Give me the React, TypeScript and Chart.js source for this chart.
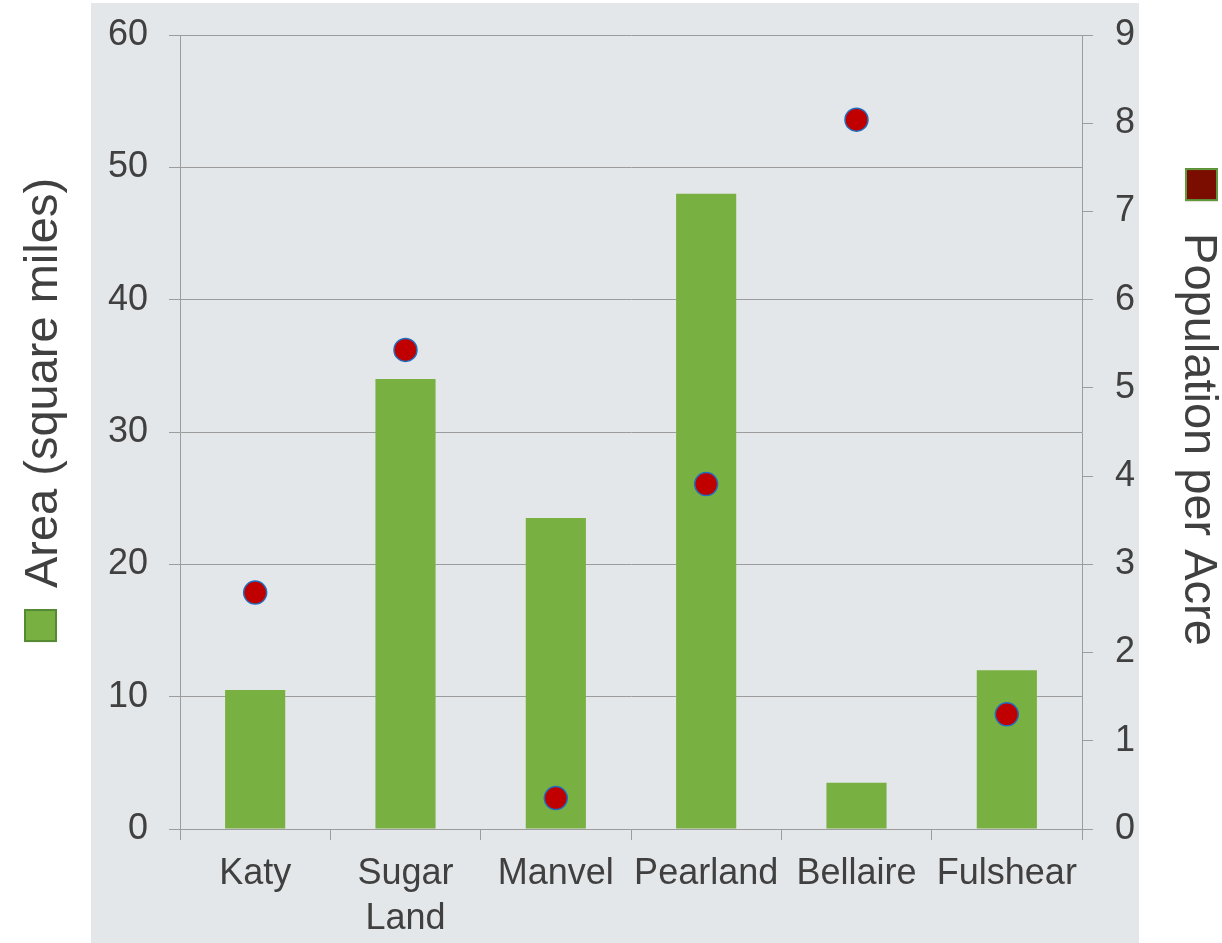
import { useEffect, useRef } from 'react';
import { Chart, registerables } from 'chart.js';

Chart.register(...registerables);

// City names (multi-line labels as arrays)
const cities: (string | string[])[] = ['Katy', ['Sugar', 'Land'], 'Manvel', 'Pearland', 'Bellaire', 'Fulshear'];
// Area of each city, square miles (left axis)
const areaSqMi = [10.5, 34, 23.5, 48, 3.5, 12];
// Population density, people per acre (right axis)
const popPerAcre = [2.68, 5.43, 0.35, 3.91, 8.04, 1.3];

const areaAxis = { min: 0, max: 60, step: 10 };
const densityAxis = { min: 0, max: 9, step: 1 };

const areaTitle = 'Area (square miles)';
const densityTitle = 'Population per Acre';

const FONT = "'Liberation Sans', Arial, sans-serif";
const TEXT = '#404040';
const GRID = '#9c9c9c';
const GREEN = '#78b042';
const GREEN_EDGE = '#558a35';
const RED = '#c00000';
const DARK_RED = '#7a0c00';

const W = 1222;
const H = 943;

// Light grey panel behind the plot
const panelPlugin = {
  id: 'panel',
  beforeDraw(chart: Chart) {
    const ctx = chart.ctx;
    ctx.save();
    ctx.fillStyle = '#e4e7e9';
    ctx.fillRect(91, 3, 1048, H - 3);
    ctx.restore();
  },
};

// Rotated axis titles, each with a colour key square
const titlesPlugin = {
  id: 'axisTitles',
  afterDraw(chart: Chart) {
    const ctx = chart.ctx;
    const area = chart.chartArea;
    const cy = (area.top + area.bottom) / 2 - 22;
    const sq = 33;
    ctx.save();
    ctx.font = `47px ${FONT}`;
    ctx.textBaseline = 'alphabetic';
    ctx.textAlign = 'left';

    // Left: reads bottom to top, key square below the text
    {
      const tw = ctx.measureText(areaTitle).width;
      const gap = 21;
      const total = sq + gap + tw;
      const baseX = 57;
      ctx.save();
      ctx.translate(baseX, cy);
      ctx.rotate(-Math.PI / 2);
      const start = -total / 2;
      ctx.fillStyle = GREEN;
      ctx.fillRect(start, -sq, sq, sq);
      ctx.strokeStyle = GREEN_EDGE;
      ctx.lineWidth = 2;
      ctx.strokeRect(start + 1, -sq + 1, sq - 2, sq - 2);
      ctx.fillStyle = TEXT;
      ctx.fillText(areaTitle, start + sq + gap, 0);
      ctx.restore();
    }

    // Right: reads top to bottom, key square above the text
    {
      const tw = ctx.measureText(densityTitle).width;
      const gap = 32;
      const total = sq + gap + tw;
      const baseX = 1185;
      ctx.save();
      ctx.translate(baseX, cy - 3);
      ctx.rotate(Math.PI / 2);
      const start = -total / 2;
      ctx.fillStyle = DARK_RED;
      ctx.fillRect(start, -sq, sq, sq);
      ctx.strokeStyle = '#5f9a3c';
      ctx.lineWidth = 2;
      ctx.strokeRect(start + 1, -sq + 1, sq - 2, sq - 2);
      ctx.fillStyle = TEXT;
      ctx.fillText(densityTitle, start + sq + gap, 0);
      ctx.restore();
    }
    ctx.restore();
  },
};

// Keep the value axes from reserving extra room for their end labels
function fixVertical(scale: any, width: number) {
  scale.width = width;
  scale.paddingTop = 0;
  scale.paddingBottom = 0;
  if (scale._margins) {
    scale._margins.top = 0;
    scale._margins.bottom = 0;
  }
}

export default function App() {
  const canvasRef = useRef<HTMLCanvasElement | null>(null);

  useEffect(() => {
    const canvas = canvasRef.current;
    if (!canvas) return;
    const tickFont = { family: FONT, size: 36, lineHeight: 1.25 };

    const chart = new Chart(canvas, {
      type: 'bar',
      data: {
        labels: cities,
        datasets: [
          {
            type: 'line',
            label: densityTitle,
            data: popPerAcre,
            yAxisID: 'y1',
            showLine: false,
            pointRadius: 11.5,
            pointHoverRadius: 11.5,
            pointBackgroundColor: RED,
            pointBorderColor: '#1f6fc0',
            pointBorderWidth: 1.5,
            order: 0,
            clip: false,
          } as any,
          {
            type: 'bar',
            label: areaTitle,
            data: areaSqMi,
            yAxisID: 'y',
            backgroundColor: GREEN,
            borderWidth: 0,
            categoryPercentage: 1,
            barPercentage: 0.4,
            order: 1,
          },
        ],
      },
      options: {
        responsive: false,
        animation: false,
        devicePixelRatio: 1,
        layout: { padding: { top: 35, left: 0, right: 0, bottom: 0 } },
        plugins: {
          legend: { display: false },
          tooltip: { enabled: false },
          title: { display: false },
        },
        scales: {
          x: {
            offset: true,
            grid: {
              offset: true,
              drawOnChartArea: false,
              drawTicks: true,
              tickLength: 11,
              color: GRID,
            },
            border: { display: true, color: GRID, width: 1 },
            ticks: { font: tickFont, color: TEXT, padding: 12, maxRotation: 0, autoSkip: false },
            afterFit(scale: any) {
              scale.height = 114;
            },
          },
          y: {
            position: 'left',
            min: areaAxis.min,
            max: areaAxis.max,
            grid: { color: GRID, tickLength: 11, drawTicks: true },
            border: { display: true, color: GRID, width: 1 },
            ticks: { stepSize: areaAxis.step, font: tickFont, color: TEXT, padding: 21 },
            afterFit(scale: any) {
              fixVertical(scale, 180);
            },
          },
          y1: {
            position: 'right',
            min: densityAxis.min,
            max: densityAxis.max,
            grid: { drawOnChartArea: false, color: GRID, tickLength: 11, drawTicks: true },
            border: { display: true, color: GRID, width: 1 },
            ticks: { stepSize: densityAxis.step, font: tickFont, color: TEXT, padding: 22 },
            afterFit(scale: any) {
              fixVertical(scale, W - 1082);
            },
          },
        },
      },
      plugins: [panelPlugin, titlesPlugin],
    });

    return () => chart.destroy();
  }, []);

  return (
    <div style={{ position: 'absolute', left: 0, top: 0, width: W, height: H, background: '#ffffff' }}>
      <canvas ref={canvasRef} width={W} height={H} style={{ display: 'block', width: W, height: H }} />
    </div>
  );
}
